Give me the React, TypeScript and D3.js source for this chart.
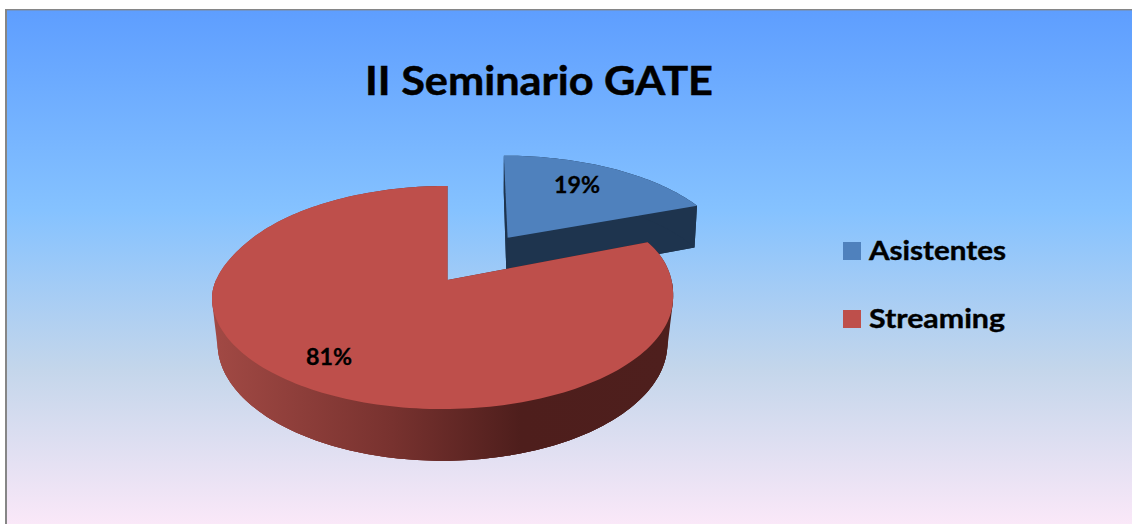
import React from "react";
import * as d3 from "d3";

const categories = ["Asistentes", "Streaming"];
const shares = [19, 81];
const percentLabels = ["19%", "81%"];
const title = "II Seminario GATE";
const topColors = ["#4F81BD", "#BE4F4B"];

const W = 1132;
const H = 524;

type Plane = { x0: number; y0: number; A: number; B: number; k: number };
const topPlane: Plane = { x0: 447.5, y0: 280, A: 108.8, B: 227.7, k: -0.157 };
const bottomPlane: Plane = { x0: 447.5, y0: 327, A: 115, B: 222.7, k: -0.14 };

// disc coordinates -> screen through a perspective plane
const project = (p: Plane, x: number, y: number): [number, number] => {
  const d = 1 + p.k * y;
  return [p.x0 + (p.B * x) / d, p.y0 + (p.A * y) / d];
};

const line = d3.line();
const pieGen = d3.pie<number>().sort(null).value((d) => d);
const arcs = pieGen(shares);

// the nearer part of the rim leans left in the original's 3-D view
const lean = (y: number) => {
  const t = Math.min(1, Math.max(0, (y + 0.4) / 0.6));
  return -5 * t * t * (3 - 2 * t);
};

const rim = (
  p: Plane,
  a0: number,
  a1: number,
  ox: number,
  oy: number,
  dx: number,
  dy: number,
  frontOnly = false
) => {
  const n = Math.max(8, Math.ceil(Math.abs(a1 - a0) * 40));
  return d3
    .range(n + 1)
    .map((i) => a0 + ((a1 - a0) * i) / n)
    .filter((a) => !frontOnly || -Math.cos(a) > 0)
    .map((a): [number, number] => {
      const y = -Math.cos(a);
      const [sx, sy] = project(p, ox + Math.sin(a), oy + y);
      return [sx + dx + lean(y), sy + dy];
    });
};

const Slice = ({
  index,
  explode,
  wall,
  dx,
  dy,
}: {
  index: number;
  explode: number;
  wall: string;
  dx: number;
  dy: number;
}) => {
  const arc = arcs[index];
  const mid = (arc.startAngle + arc.endAngle) / 2;
  const ox = Math.sin(mid) * explode;
  const oy = -Math.cos(mid) * explode;
  const topRim = rim(topPlane, arc.startAngle, arc.endAngle, ox, oy, dx, dy);
  const botRim = rim(bottomPlane, arc.startAngle, arc.endAngle, ox, oy, dx, dy);
  const frontTop = rim(topPlane, arc.startAngle, arc.endAngle, ox, oy, dx, dy, true);
  const frontBot = rim(bottomPlane, arc.startAngle, arc.endAngle, ox, oy, dx, dy, true);
  const frontHull = d3.polygonHull([...frontTop, ...frontBot]);
  const topC = project(topPlane, ox, oy);
  const botC = project(bottomPlane, ox, oy);
  const closed = (pts: [number, number][]) => line(pts)! + "Z";
  return (
    <g>
      <path d={closed([botC, ...botRim])} fill={wall} />
      <path d={closed([topC, botC, botRim[0], topRim[0]])} fill={wall} />
      <path d={closed([topC, botC, botRim[botRim.length - 1], topRim[topRim.length - 1]])} fill={wall} />
      <path d={closed([...topRim, ...[...botRim].reverse()])} fill={wall} />
      {frontHull && <path d={closed(frontHull)} fill={wall} />}
      <path d={closed([topC, ...topRim])} fill={topColors[index]} />
    </g>
  );
};

export default function App() {
  const font = "Lato, Carlito, 'Open Sans', sans-serif";
  const textProps = {
    fontFamily: font,
    fontWeight: 700,
    fill: "#000",
    stroke: "#000",
    lengthAdjust: "spacingAndGlyphs",
  } as const;
  return (
    <svg
      width={W}
      height={H}
      viewBox={`0 0 ${W} ${H}`}
      style={{ position: "absolute", left: 0, top: 0, display: "block" }}
    >
      <defs>
        <linearGradient id="bg" x1="0" y1="0" x2="0" y2="1">
          <stop offset="0" stopColor="#5E9EFF" />
          <stop offset="0.39" stopColor="#85C2FF" />
          <stop offset="0.7" stopColor="#C4D6EB" />
          <stop offset="1" stopColor="#FAE8F8" />
        </linearGradient>
        <linearGradient id="wallRed" gradientUnits="userSpaceOnUse" x1="207" y1="0" x2="668" y2="0">
          <stop offset="0" stopColor="#A34A45" />
          <stop offset="0.4" stopColor="#78322F" />
          <stop offset="0.68" stopColor="#4E1E1C" />
          <stop offset="1" stopColor="#4E1F1D" />
        </linearGradient>
      </defs>
      <rect width={W} height={H} fill="#fff" />
      <rect x={6} y={10} width={W - 6} height={H - 10} fill="url(#bg)" />
      <rect x={5} y={9} width={2} height={H - 9} fill="#868686" />
      <rect x={5} y={9} width={W - 5} height={1.4} fill="#868686" />

      <text {...textProps} x={365} y={95} fontSize={41} strokeWidth={0.5} textLength={348}>
        {title}
      </text>

      <Slice index={0} explode={0.5} wall="#1E344E" dx={4} dy={1.5} />
      <Slice index={1} explode={0} wall="url(#wallRed)" dx={0} dy={0} />

      <text {...textProps} x={554} y={193} fontSize={22} strokeWidth={0.3} textLength={46}>
        {percentLabels[0]}
      </text>
      <text {...textProps} x={306} y={365} fontSize={22} strokeWidth={0.3} textLength={46}>
        {percentLabels[1]}
      </text>

      {categories.map((c, i) => (
        <g key={c}>
          <rect x={843} y={242 + i * 68} width={18} height={18} fill={topColors[i]} />
          <text
            {...textProps}
            x={869}
            y={259.5 + i * 68}
            fontSize={26.5}
            strokeWidth={0.4}
            textLength={i === 0 ? 137 : 136}
          >
            {c}
          </text>
        </g>
      ))}
    </svg>
  );
}
